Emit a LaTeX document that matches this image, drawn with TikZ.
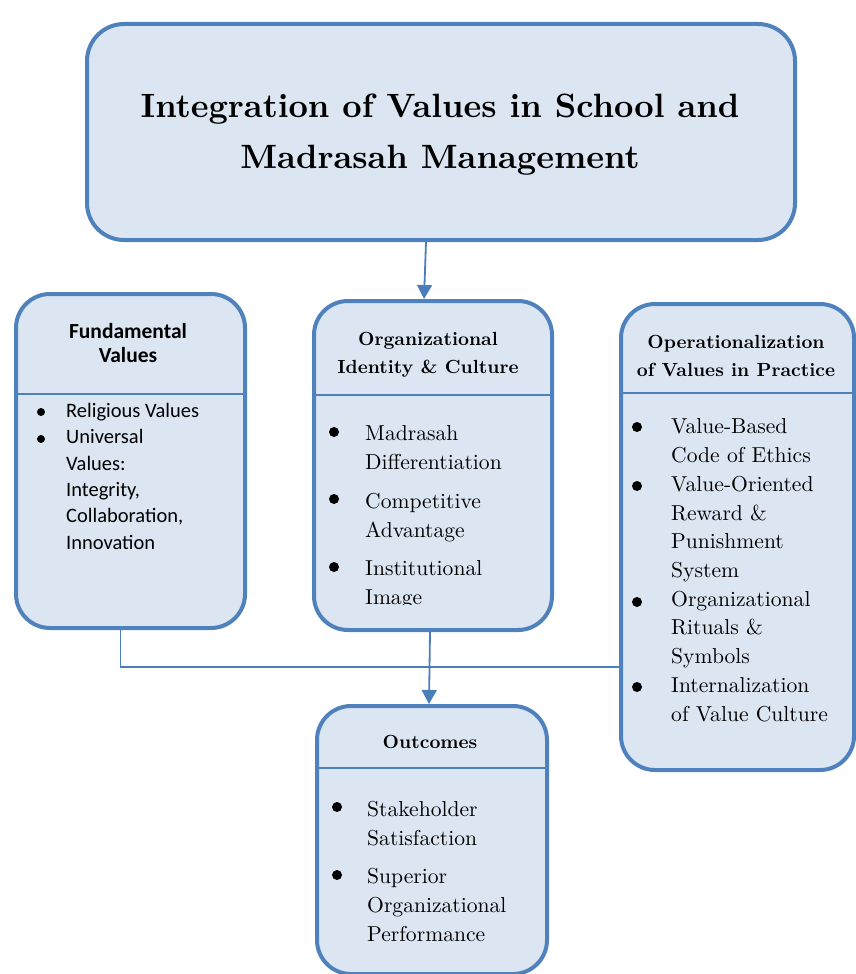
\documentclass[tikz,border=0pt]{standalone}
\usepackage{fontspec}
\setmainfont{lmroman10-regular.otf}[BoldFont=lmroman10-bold.otf, ItalicFont=lmroman10-italic.otf]
\newfontfamily\calibri{Carlito}
\usetikzlibrary{arrows.meta}
\definecolor{boxline}{HTML}{4F81BD}
\definecolor{boxfill}{HTML}{DCE6F2}
\definecolor{linkline}{HTML}{4A7EBB}

\begin{document}
\begin{tikzpicture}[
        x=1pt, y=-1pt,
        box/.style={draw=boxline, fill=boxfill, line width=4pt, rounded corners=34pt,
            inner sep=0pt, anchor=north west},
        sep/.style={draw=boxline, line width=1.5pt},
        link/.style={draw=linkline, line width=1.8pt},
        tip/.style={-{Triangle[length=14pt,width=15pt]}},
        dot/.style={circle, fill=black, inner sep=0pt, minimum size=10pt},
        head/.style={anchor=base, align=center, inner sep=0pt, font=\bfseries\fontsize{19}{28}\selectfont},
        item/.style={anchor=base west, align=left, inner sep=0pt, font=\fontsize{21.6}{28.5}\selectfont},
    ]
    \useasboundingbox (0,0) rectangle (855,974);

    % main title (multi-line nodes sit on their last baseline)
    \node[box, rounded corners=37pt, minimum width=708pt, minimum height=216pt] (title) at (85,22) {};
    \node[anchor=base, align=center, inner sep=0pt, font=\bfseries\fontsize{33.7}{51}\selectfont]
        (titletext) at (440,168) {Integration of Values in School and\\Madrasah Management};

    % the four content boxes
    \node[box, minimum width=229pt, minimum height=334pt] (fund) at (14,292) {};
    \node[box, minimum width=238pt, minimum height=329pt] (ident) at (312,299) {};
    \node[box, minimum width=233pt, minimum height=466pt] (oper) at (619,302) {};
    \node[box, minimum width=230pt, minimum height=268pt] (outc) at (315,704) {};

    \draw[sep] (14,394) -- (243,394);
    \draw[sep] (312,395) -- (550,395);
    \draw[sep] (619,393) -- (852,393);
    \draw[sep] (315,768) -- (545,768);

    % fundamental values
    \node[head, font=\calibri\bfseries\fontsize{21.5}{23.5}\selectfont] (fundhead) at (128,362) {Fundamental\\Values};
    \node[dot, minimum size=8pt] (fdot1) at (41,412) {};
    \node[dot, minimum size=8pt] (fdot2) at (41,439) {};
    \node[item, font=\calibri\fontsize{20.5}{26.3}\selectfont] (fitem1) at (66,417) {Religious Values};
    \node[item, font=\calibri\fontsize{20.5}{26.3}\selectfont] (fitem2) at (66,549)
        {Universal\\Values:\\Integrity,\\Collaboration,\\Innovation};

    % identity and culture
    \node[head] (identhead) at (428,373) {Organizational\\Identity \& Culture};
    \node[dot] (idot1) at (334,432) {};
    \node[dot] (idot2) at (334,499) {};
    \node[dot] (idot3) at (334,567) {};
    \begin{scope}
        \clip (312,395) rectangle (550,604);
        \node[item] (iitem1) at (365,469) {Madrasah\\Differentiation};
        \node[item] (iitem2) at (365,537) {Competitive\\Advantage};
        \node[item] (iitem3) at (365,604) {Institutional\\Image};
    \end{scope}

    % values in practice
    \node[head] (operhead) at (736,376) {Operationalization\\of Values in Practice};
    \node[dot] (odot1) at (637,427) {};
    \node[dot] (odot2) at (637,486) {};
    \node[dot] (odot3) at (637,602) {};
    \node[dot] (odot4) at (637,687) {};
    \node[item] (oitem1) at (671,462) {Value-Based\\Code of Ethics};
    \node[item] (oitem2) at (671,577) {Value-Oriented\\Reward \&\\Punishment\\System};
    \node[item] (oitem3) at (671,663) {Organizational\\Rituals \&\\Symbols};
    \node[item] (oitem4) at (671,721) {Internalization\\of Value Culture};

    % outcomes
    \node[head] (outchead) at (430,748) {Outcomes};
    \node[dot] (udot1) at (337,807) {};
    \node[dot] (udot2) at (337,875) {};
    \node[item, font=\fontsize{21.6}{29}\selectfont] (uitem1) at (367,845) {Stakeholder\\Satisfaction};
    \node[item, font=\fontsize{21.6}{29}\selectfont] (uitem2) at (367,941) {Superior\\Organizational\\Performance};

    % connectors
    \coordinate (joint) at (118,667);
    \draw[link, tip] ([xshift=-15pt]title.south) -- ([xshift=-9pt]ident.north);
    \draw[link] ([xshift=-10pt]fund.south) |- (joint -| oper.west);
    \draw[link, tip] ([xshift=-3pt]ident.south) -- ([xshift=-3pt]outc.north);
\end{tikzpicture}
\end{document}
